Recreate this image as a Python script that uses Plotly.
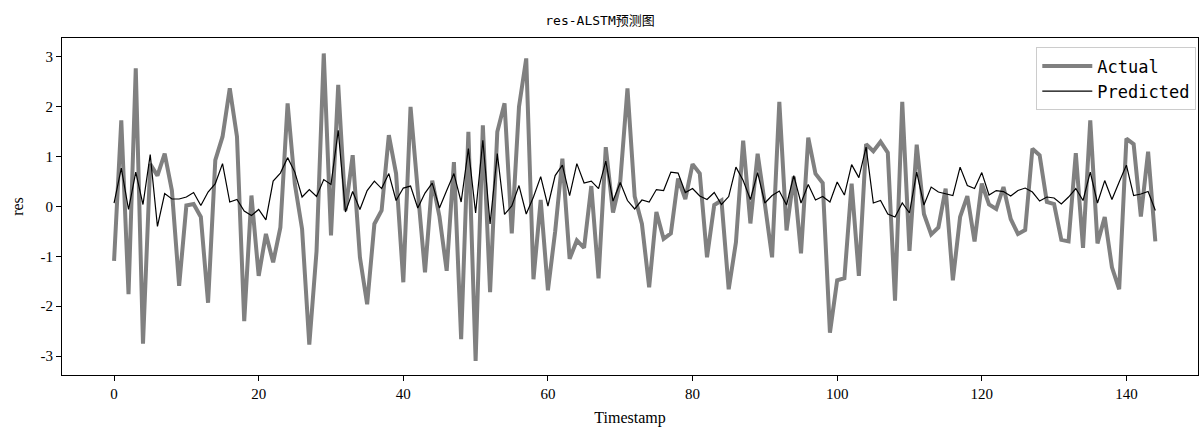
import plotly.graph_objects as go

timestamps = list(range(145))

actual = [
    -1.09, 1.73, -1.76, 2.77, -2.75, 0.85, 0.62, 1.06, 0.32, -1.59,
    0.02, 0.05, -0.21, -1.93, 0.93, 1.40, 2.37, 1.40, -2.30, 0.22,
    -1.39, -0.55, -1.12, -0.42, 2.07, 0.45, -0.45, -2.77, -0.90, 3.07,
    -0.58, 2.44, -0.08, 1.03, -1.02, -1.96, -0.35, -0.08, 1.43, 0.66,
    -1.52, 2.00, 0.32, -1.32, 0.52, -0.20, -1.29, 0.89, -2.66, 1.50,
    -3.10, 1.63, -1.72, 1.50, 2.07, -0.54, 2.00, 2.97, -1.46, 0.13,
    -1.68, -0.50, 0.96, -1.05, -0.68, -0.83, 0.41, -1.44, 1.19, -0.12,
    0.50, 2.37, 0.20, -0.35, -1.62, -0.11, -0.65, -0.54, 0.56, 0.15,
    0.85, 0.66, -1.02, 0.03, 0.12, -1.66, -0.72, 1.32, -0.34, 1.06,
    0.05, -1.02, 2.10, -0.48, 0.60, -0.94, 1.38, 0.66, 0.47, -2.53,
    -1.48, -1.44, 0.46, -1.39, 1.25, 1.11, 1.30, 1.08, -1.89, 2.10,
    -0.89, 1.24, -0.15, -0.56, -0.42, 0.36, -1.48, -0.21, 0.21, -0.70,
    0.46, 0.04, -0.05, 0.39, -0.25, -0.55, -0.47, 1.16, 1.03, 0.09,
    0.05, -0.67, -0.70, 1.07, -0.83, 1.73, -0.74, -0.21, -1.22, -1.66,
    1.36, 1.25, -0.20, 1.10, -0.70,
]

predicted = [
    0.07, 0.77, -0.06, 0.69, 0.04, 1.04, -0.40, 0.26, 0.15, 0.15,
    0.19, 0.28, 0.02, 0.29, 0.46, 0.86, 0.09, 0.14, -0.09, -0.18,
    -0.06, -0.27, 0.51, 0.67, 0.98, 0.69, 0.19, 0.34, 0.20, 0.54,
    0.44, 1.53, -0.11, 0.30, -0.06, 0.32, 0.51, 0.36, 0.66, 0.12,
    0.37, 0.41, -0.03, 0.27, 0.47, -0.03, 0.32, 0.66, 0.09, 1.16,
    -0.13, 1.33, -0.35, 1.06, -0.16, 0.01, 0.42, -0.15, 0.19, 0.60,
    0.01, 0.62, 0.83, 0.22, 0.86, 0.47, 0.51, 0.36, 0.91, 0.11,
    0.48, 0.12, -0.05, 0.13, 0.09, 0.34, 0.32, 0.69, 0.67, 0.28,
    0.36, 0.21, 0.14, 0.28, 0.04, 0.20, 0.79, 0.52, 0.14, 0.68,
    0.07, 0.22, 0.31, 0.03, 0.62, 0.07, 0.44, 0.13, 0.20, 0.09,
    0.49, 0.23, 0.84, 0.58, 1.19, 0.07, 0.12, -0.15, -0.21, 0.07,
    -0.13, 0.69, 0.03, 0.39, 0.29, 0.26, 0.22, 0.79, 0.42, 0.36,
    0.68, 0.23, 0.32, 0.30, 0.21, 0.32, 0.37, 0.29, 0.11, 0.19,
    0.17, 0.05, 0.19, 0.36, 0.12, 0.69, 0.07, 0.52, 0.14, 0.49,
    0.83, 0.22, 0.25, 0.30, -0.08,
]

xtick_vals = [0, 20, 40, 60, 80, 100, 120, 140]
ytick_vals = [-3, -2, -1, 0, 1, 2, 3]
ytick_text = ["-3", "-2", "-1", "0", "1", "2", "3"]

fig = go.Figure()
fig.add_trace(go.Scatter(x=timestamps, y=actual, mode="lines", name="Actual",
                         line=dict(color="#808080", width=4)))
fig.add_trace(go.Scatter(x=timestamps, y=predicted, mode="lines", name="Predicted",
                         line=dict(color="#000000", width=1.2)))

serif = "Liberation Serif, Times New Roman, serif"
mono_cjk = "DejaVu Sans Mono, Noto Sans CJK SC"
fig.update_layout(
    width=1200, height=427,
    margin=dict(l=62, r=2, t=38, b=52),
    paper_bgcolor="white", plot_bgcolor="white",
    title=dict(text="res-ALSTM预测图", x=0.5, xanchor="center", y=0.952, yanchor="middle",
               font=dict(family=mono_cjk, size=13, color="black")),
    legend=dict(x=0.9985, y=0.972, xanchor="right", yanchor="top",
                bgcolor="rgba(255,255,255,0.8)", bordercolor="#cccccc", borderwidth=1,
                font=dict(family=mono_cjk, size=17, color="black"),
                itemwidth=50, tracegroupgap=0),
    showlegend=True,
)
fig.update_xaxes(range=[-7.2, 149.9], tickvals=xtick_vals, showgrid=False, zeroline=False,
                 showline=True, linecolor="black", linewidth=1, mirror=True,
                 ticks="outside", ticklen=5, tickcolor="black",
                 tickfont=dict(family=serif, size=15, color="black"),
                 title=dict(text="Timestamp", font=dict(family=serif, size=16, color="black"), standoff=12))
fig.update_yaxes(range=[-3.38, 3.38], tickvals=ytick_vals, ticktext=ytick_text, showgrid=False,
                 zeroline=False, showline=True, linecolor="black", linewidth=1, mirror=True,
                 ticks="outside", ticklen=5, tickcolor="black",
                 tickfont=dict(family=serif, size=15, color="black"),
                 title=dict(text="res", font=dict(family=serif, size=16, color="black"), standoff=12))

fig.write_html("out.html")
